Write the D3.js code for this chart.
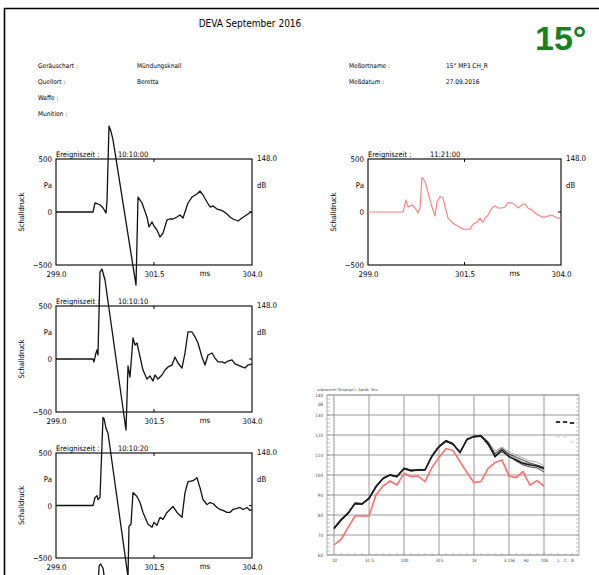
<!DOCTYPE html>
<html><head><meta charset="utf-8">
<script src="https://cdn.jsdelivr.net/npm/d3@7"></script>
<style>body{margin:0;background:#fff}svg{display:block}</style>
</head><body><svg id="c" width="599" height="575"></svg>
<script>
// ---------- DATA ----------
const timeTicks = [299.0, 301.5, 304.0];
const paTicks = [-500, 0, 500];

const p1Time = [299.0,299.944,299.995,300.046,300.122,300.199,300.276,300.301,300.352,300.403,300.454,301.041,301.092,301.194,301.321,301.372,301.449,301.5,301.577,301.653,301.730,301.832,301.908,301.985,302.087,302.163,302.240,302.291,302.367,302.469,302.597,302.673,302.750,302.852,302.929,303.005,303.107,303.184,303.260,303.362,303.439,303.515,303.643,303.745,303.821,303.898,303.974,304.0];
const p1Val = [0,0,85,80,66,40,-10,100,811,760,680,-689,141,85,-47,-141,-94,-132,-170,-236,-198,-75,-66,-66,-47,-28,-57,0,85,141,170,198,160,94,47,57,28,19,9,-19,-47,-66,-85,-57,-38,-19,0,-5];

const p2Time = [299.0,299.907,299.984,300.036,300.140,300.218,300.295,300.347,300.399,300.477,300.555,300.658,300.736,300.788,300.866,300.943,300.995,301.073,301.202,301.332,301.461,301.565,301.643,301.720,301.824,301.902,301.980,302.032,302.109,302.213,302.291,302.368,302.472,302.550,302.627,302.731,302.809,302.887,302.990,303.068,303.146,303.249,303.327,303.405,303.508,303.586,303.664,303.767,303.845,303.922,304.0];
const p2Val = [0,0,115,48,67,38,-10,38,326,288,182,48,-38,96,144,134,48,-58,-106,-134,-163,-163,-163,-115,-96,-58,-96,-58,-29,38,58,38,38,48,86,86,67,38,67,77,38,19,-10,-29,-48,-48,-38,-29,-48,-58,-58];

const p3Time = [299.0,299.944,299.969,300.020,300.046,300.071,300.122,300.173,300.250,300.786,300.837,300.888,300.964,301.015,301.066,301.143,301.219,301.321,301.398,301.474,301.526,301.602,301.704,301.781,301.857,301.959,302.036,302.112,302.214,302.291,302.367,302.469,302.546,302.622,302.724,302.801,302.878,302.980,303.056,303.133,303.235,303.311,303.388,303.490,303.566,303.643,303.745,303.821,303.898,304.0];
const p3Val = [0,0,-28,57,85,38,820,849,745,-670,-66,-170,198,132,151,19,-104,-189,-160,-207,-151,-189,-151,-104,-75,-57,19,-38,-85,57,255,255,208,151,19,-57,38,57,9,-28,-28,-38,-19,-9,-47,-57,-75,-85,-57,-47];

const p4Time = [299.0,299.944,299.995,300.046,300.071,300.122,300.199,300.224,300.276,300.327,300.837,300.862,300.913,300.964,301.066,301.143,301.219,301.347,301.449,301.5,301.577,301.653,301.730,301.832,301.908,301.985,302.087,302.214,302.291,302.367,302.495,302.597,302.673,302.750,302.852,302.929,303.005,303.107,303.184,303.260,303.362,303.439,303.515,303.617,303.694,303.770,303.872,303.949,304.0];
const p4Val = [0,0,75,94,57,75,839,830,735,688,-679,-198,-179,123,85,28,-66,-179,-207,-160,-189,-113,-132,-66,-38,-9,-66,-113,123,226,236,264,170,57,9,28,19,-19,-38,-47,-66,-66,-38,-28,-19,-38,-19,-47,-38];

// 5th record, only its first peak reaches into the page
const p5Time = [300.02,300.10,300.14,300.20,300.28];
const p5Val = [300,820,840,800,600];

const bandLabels = ["10","31.5","100","315","1k","3.15k","10k"];
const bandLabelIdx = [0,5,10,15,20,25,30];
const sumLabels = ["L","C","A"];
const dbTicks = [60,70,80,90,100,110,120,130,140];

const specA = [73.3,77.5,80.8,85.8,85.5,88.3,94.2,98.3,100,99.2,103.3,102.2,102.5,102.5,109.5,114.2,117,115.5,111.2,117.8,119.2,119.5,115.8,109.2,112.5,109.2,107.5,105.8,105,104.5,103.3];
const specB = [72.8,77,80.5,85.5,85.2,88,93.8,98,99.8,99,103,102,102.3,102.3,109,113.8,116.6,115.2,111,117.5,119.5,119.8,116.5,110.5,113.2,110.5,109,107.5,106,105,103.8];
const specC = [73.8,78,81.2,86,85.8,88.6,94.6,98.6,100.2,99.5,103.5,102.5,102.8,102.8,109.8,114.6,117.4,115.8,111.5,118,119,119.2,115,109.8,111.5,109.5,107,105,104,103.5,101.5];
const specD = [73,77.3,80.6,85.6,85.4,88.2,94,98.2,99.9,99.1,103.2,102.1,102.4,102.4,109.3,114,116.8,115.4,111.3,118.2,119.8,120,117,112,114,111.5,110,108.5,107,106.5,104.5];
const specE = [73.5,77.7,81,86,85.7,88.5,94.4,98.4,100.1,99.3,103.4,102.3,102.6,102.6,109.6,114.4,117.2,115.7,111.6,117.6,119.4,119.6,116.2,111,113.6,110.2,108.2,106.4,105.6,104.2,102.5];
const specRed = [65,67.8,73.7,79.5,79.5,79.5,90,94.5,97,95,100.8,99.2,99.5,96.7,103.8,108.8,113.2,112.2,106.7,101.2,96.2,96.7,103.3,106.2,107.5,99.5,98.7,101.7,95,97.2,94.5];
const sumBlack = [126.5,126.5,126];
const sumRed = [119,119,116.5];

// ---------- DRAW ----------
const svg = d3.select("#c");
const F = "'DejaVu Sans Condensed','Liberation Sans Narrow','Liberation Sans',sans-serif";
svg.append("rect").attr("width",599).attr("height",575).attr("fill","#fff");
svg.append("path").attr("d","M4.5,575V8.5H599").attr("fill","none").attr("stroke","#000").attr("stroke-width",1.6);

function txt(x,y,s,size,anchor){
  return svg.append("text").attr("x",x).attr("y",y).text(s)
    .attr("font-family",F).attr("font-size",size).attr("fill","#000")
    .attr("text-anchor",anchor||"start");
}
txt(250,27,"DEVA September 2016",10,"middle");
svg.append("text").attr("x",535).attr("y",50).text("15°")
  .attr("font-family","'Liberation Sans',Arial,sans-serif").attr("font-weight","bold")
  .attr("font-size",34).attr("fill","#15821a");

const hdr = [["Geräuschart :",38,68],["Quellort :",38,84],["Waffe :",38,100],["Munition :",38,116],
  ["Mündungsknall",137,68],["Beretta",137,84],["Meßortname :",349,68],["15° MP3 CH_R",446,68],
  ["Meßdatum :",349,84],["27.09.2016",446,84]];
hdr.forEach(h=>txt(h[1],h[2],h[0],6.5));

function panel(o){
  const x = d3.scaleLinear().domain([299,304]).range([o.left,o.left+o.w]);
  const y = d3.scaleLinear().domain([-500,500]).range([o.top+o.h,o.top]);
  const g = svg.append("g");
  const line = d3.line().x(d=>x(d[0])).y(d=>y(d[1]));
  if(!o.traceOnly){
  g.append("rect").attr("x",o.left).attr("y",o.top).attr("width",o.w).attr("height",o.h)
    .attr("fill","none").attr("stroke","#000").attr("stroke-width",1.1);
  [[o.top,3],[o.top+o.h,-3]].forEach(d=>g.append("line").attr("x1",x(301.5)).attr("x2",x(301.5))
    .attr("y1",d[0]).attr("y2",d[0]+d[1]).attr("stroke","#000"));
  g.append("line").attr("x1",x(304)).attr("x2",x(304)-3).attr("y1",y(0)).attr("y2",y(0)).attr("stroke","#000");
  const ax = g.append("g").attr("transform",`translate(0,${o.top+o.h+3})`)
    .call(d3.axisBottom(x).tickValues(timeTicks).tickSize(0).tickFormat(d3.format(".1f")));
  const ay = g.append("g").attr("transform",`translate(${o.left},0)`)
    .call(d3.axisLeft(y).tickValues(paTicks).tickSize(0).tickPadding(4).tickFormat(d3.format("d")));
  [ax,ay].forEach(a=>{a.select(".domain").remove();
    a.selectAll("text").attr("font-family",F).attr("font-size",7.8).attr("fill","#000");});
  const t = (xx,yy,s,anchor)=>g.append("text").attr("x",xx).attr("y",yy).text(s).attr("font-family",F)
    .attr("font-size",7.8).attr("fill","#000").attr("dy","0.32em").attr("text-anchor",anchor||"start");
  t(x(304)+5,y(500),"148.0");
  t(x(304)+5,y(250),"dB");
  t(o.left-4,y(250),"Pa","end");
  t(x(302.8),o.top+o.h+9,"ms","middle");
  g.append("text").attr("transform",`translate(${o.left-32},${y(0)}) rotate(-90)`).text("Schalldruck")
    .attr("font-family",F).attr("font-size",7.5).attr("text-anchor","middle").attr("fill","#000");
  g.append("text").attr("x",o.left).attr("y",o.top-2).text("Ereigniszeit :").attr("font-family",F).attr("font-size",7.5);
  g.append("text").attr("x",o.left+62).attr("y",o.top-2).text(o.time).attr("font-family",F).attr("font-size",7.5);
  }
  g.append("path").datum(o.t.map((v,i)=>[v,o.v[i]])).attr("d",line)
    .attr("fill","none").attr("stroke",o.color).attr("stroke-width",o.sw).attr("stroke-linejoin","round");
}
panel({left:56,top:159,w:196,h:106,t:p1Time,v:p1Val,color:"#111",sw:1.3,time:"10:10:00"});
panel({left:368,top:159,w:193,h:106,t:p2Time,v:p2Val,color:"#ff7a7a",sw:1.1,time:"11:21:00"});
panel({left:56,top:306,w:196,h:106,t:p3Time,v:p3Val,color:"#111",sw:1.3,time:"10:10:10"});
panel({left:56,top:453,w:196,h:105,t:p4Time,v:p4Val,color:"#111",sw:1.3,time:"10:10:20"});
panel({left:56,top:600,w:196,h:106,t:p5Time,v:p5Val,color:"#111",sw:1.3,traceOnly:true});

// ---------- SPECTRUM ----------
const sx = d3.scaleLinear().domain([-1,35]).range([327,579]);
const sy = d3.scaleLinear().domain([60,140]).range([555,395]);
const sg = svg.append("g");
const GC = "#8c8c8c";
dbTicks.forEach(d=>sg.append("line").attr("x1",sx(-1)).attr("x2",sx(35)).attr("y1",sy(d)).attr("y2",sy(d))
  .attr("stroke",GC).attr("stroke-width",0.9));
bandLabelIdx.forEach(i=>sg.append("line").attr("x1",sx(i)).attr("x2",sx(i)).attr("y1",sy(60)).attr("y2",sy(140))
  .attr("stroke",GC).attr("stroke-width",0.9));
sg.append("rect").attr("x",sx(-1)).attr("y",sy(140)).attr("width",sx(35)-sx(-1)).attr("height",sy(60)-sy(140))
  .attr("fill","none").attr("stroke","#a8a8a8").attr("stroke-width",0.9);
d3.range(60,141,2).forEach(d=>{
  sg.append("line").attr("x1",sx(-1)).attr("x2",sx(-1)+3).attr("y1",sy(d)).attr("y2",sy(d)).attr("stroke","#999").attr("stroke-width",0.6);
  sg.append("line").attr("x1",sx(35)).attr("x2",sx(35)-3).attr("y1",sy(d)).attr("y2",sy(d)).attr("stroke","#999").attr("stroke-width",0.6);
});
d3.range(0,35).forEach(i=>sg.append("line").attr("x1",sx(i)).attr("x2",sx(i)).attr("y1",sy(60)).attr("y2",sy(60)-2)
  .attr("stroke","#999").attr("stroke-width",0.6));
const sax = sg.append("g").attr("transform",`translate(0,${sy(60)+1})`)
  .call(d3.axisBottom(sx).tickValues(bandLabelIdx.concat([27.4,32,33,34])).tickSize(0).tickPadding(3)
  .tickFormat(d=>{const k=bandLabelIdx.indexOf(d); if(k>=0) return bandLabels[k]; if(d===27.4) return "Hz"; return sumLabels[d-32];}));
const say = sg.append("g").attr("transform",`translate(${sx(-1)},0)`)
  .call(d3.axisLeft(sy).tickValues(dbTicks).tickSize(0).tickPadding(4));
[sax,say].forEach(a=>{a.select(".domain").remove();
  a.selectAll("text").attr("font-family",F).attr("font-size",4.5).attr("fill","#444");});
sg.append("text").attr("x",sx(-1)-4).attr("y",sy(135)).attr("dy","0.32em").attr("text-anchor","end").text("dB")
  .attr("font-family",F).attr("font-size",4.5).attr("fill","#444");
sg.append("text").attr("x",317).attr("y",391).text("unbewertet Terzpegel L  Zpeak, Terz")
  .attr("font-family",F).attr("font-size",3.8).attr("fill","#444");

const sline = d3.line().x((d,i)=>sx(i)).y(d=>sy(d));
[[specD,"#9a9a9a",0.8],[specE,"#777",0.8],[specB,"#333",0.9],[specC,"#333",0.9],[specA,"#1a1a1a",1.6]].forEach(s=>
  sg.append("path").datum(s[0]).attr("d",sline).attr("fill","none").attr("stroke",s[1]).attr("stroke-width",s[2]));
sg.append("path").datum(specRed).attr("d",sline).attr("fill","none").attr("stroke","#ff6b6b").attr("stroke-width",1.6);
sumBlack.forEach((v,i)=>sg.append("line").attr("x1",sx(32+i)-2.2).attr("x2",sx(32+i)+2.2).attr("y1",sy(v)).attr("y2",sy(v))
  .attr("stroke","#222").attr("stroke-width",1.8));
sumRed.forEach((v,i)=>sg.append("line").attr("x1",sx(32+i)-2).attr("x2",sx(32+i)+2).attr("y1",sy(v)).attr("y2",sy(v))
  .attr("stroke","#ffb0b0").attr("stroke-width",0.9));
</script></body></html>
